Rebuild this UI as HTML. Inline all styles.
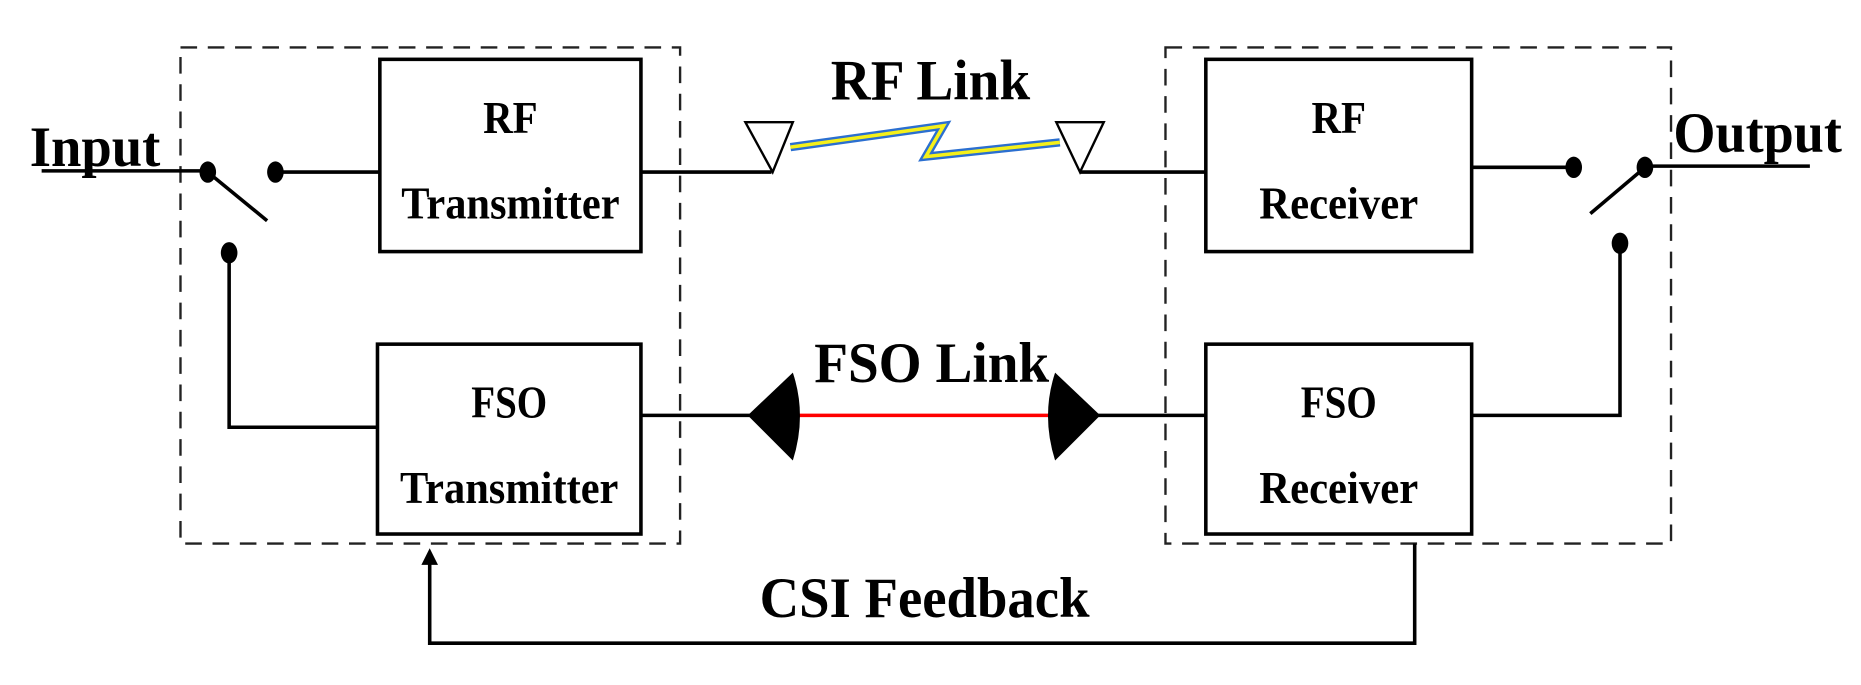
<!DOCTYPE html>
<html><head><style>html,body{margin:0;padding:0;background:#fff}</style></head>
<body>
<svg width="1861" height="680" viewBox="0 0 1568 573" xmlns="http://www.w3.org/2000/svg" font-family="Liberation Serif, serif" font-weight="bold">
<g fill="none" stroke="#222" stroke-width="2" stroke-dasharray="14,9">
<rect x="152" y="40" width="421" height="418"/>
<rect x="982" y="40" width="426" height="418"/>
</g>
<g fill="#fff" stroke="#000" stroke-width="3">
<rect x="320" y="50" width="220" height="162"/>
<rect x="318" y="290" width="222" height="160"/>
<rect x="1016" y="50" width="224" height="162"/>
<rect x="1016" y="290" width="224" height="160"/>
</g>
<g font-size="38" text-anchor="middle" fill="#000">
<text x="430" y="112" textLength="46" lengthAdjust="spacingAndGlyphs">RF</text>
<text x="430" y="184" textLength="184" lengthAdjust="spacingAndGlyphs">Transmitter</text>
<text x="429" y="352" textLength="64" lengthAdjust="spacingAndGlyphs">FSO</text>
<text x="429" y="424" textLength="184" lengthAdjust="spacingAndGlyphs">Transmitter</text>
<text x="1128" y="112" textLength="46" lengthAdjust="spacingAndGlyphs">RF</text>
<text x="1128" y="184" textLength="134" lengthAdjust="spacingAndGlyphs">Receiver</text>
<text x="1128" y="352" textLength="64" lengthAdjust="spacingAndGlyphs">FSO</text>
<text x="1128" y="424" textLength="134" lengthAdjust="spacingAndGlyphs">Receiver</text>
</g>
<g font-size="48" fill="#000">
<text x="25" y="140" textLength="110" lengthAdjust="spacingAndGlyphs">Input</text>
<text x="1410" y="128" textLength="142" lengthAdjust="spacingAndGlyphs">Output</text>
<text x="700" y="84" textLength="168" lengthAdjust="spacingAndGlyphs">RF Link</text>
<text x="686" y="322" textLength="198" lengthAdjust="spacingAndGlyphs">FSO Link</text>
<text x="640" y="520" textLength="278" lengthAdjust="spacingAndGlyphs">CSI Feedback</text>
</g>
<g stroke="#000" stroke-width="3" fill="none">
<line x1="35" y1="144" x2="175" y2="144"/>
<line x1="175" y1="145" x2="225" y2="186"/>
<line x1="232" y1="145" x2="320" y2="145"/>
<polyline points="193,213 193,360 318,360"/>
<line x1="540" y1="145" x2="650" y2="145"/>
<line x1="910" y1="145" x2="1016" y2="145"/>
<line x1="1240" y1="141" x2="1325" y2="141"/>
<line x1="1385" y1="140" x2="1525" y2="140"/>
<line x1="1385" y1="142" x2="1340" y2="180"/>
<polyline points="1365,205 1365,350 1240,350"/>
<line x1="540" y1="350" x2="632" y2="350"/>
<line x1="925" y1="350" x2="1016" y2="350"/>
<polyline points="1192,458 1192,542 362,542 362,474"/>
</g>
<polygon points="362,462 355,476 369,476" fill="#000"/>
<g fill="#000">
<ellipse cx="175" cy="145" rx="7" ry="9"/>
<ellipse cx="232" cy="145" rx="7" ry="9"/>
<ellipse cx="193" cy="213" rx="7" ry="9"/>
<ellipse cx="1326" cy="141" rx="7" ry="9"/>
<ellipse cx="1386" cy="141" rx="7" ry="9"/>
<ellipse cx="1365" cy="205" rx="7" ry="9"/>
</g>
<g fill="#fff" stroke="#000" stroke-width="2">
<polygon points="628,103 668,103 651,145"/>
<polygon points="890,103 930,103 910,145"/>
</g>
<polyline points="666,124 795,106 780,132 893,120" fill="none" stroke="#2b6fd0" stroke-width="7"/>
<polyline points="666,124 795,106 780,132 893,120" fill="none" stroke="#f5f01a" stroke-width="3"/>
<line x1="672" y1="350" x2="885" y2="350" stroke="#ff0000" stroke-width="3"/>
<path d="M630,350 L668,314 Q680,350 668,388 Z" fill="#000"/>
<path d="M927,350 L889,314 Q877,350 889,388 Z" fill="#000"/>
</svg>
</body></html>
